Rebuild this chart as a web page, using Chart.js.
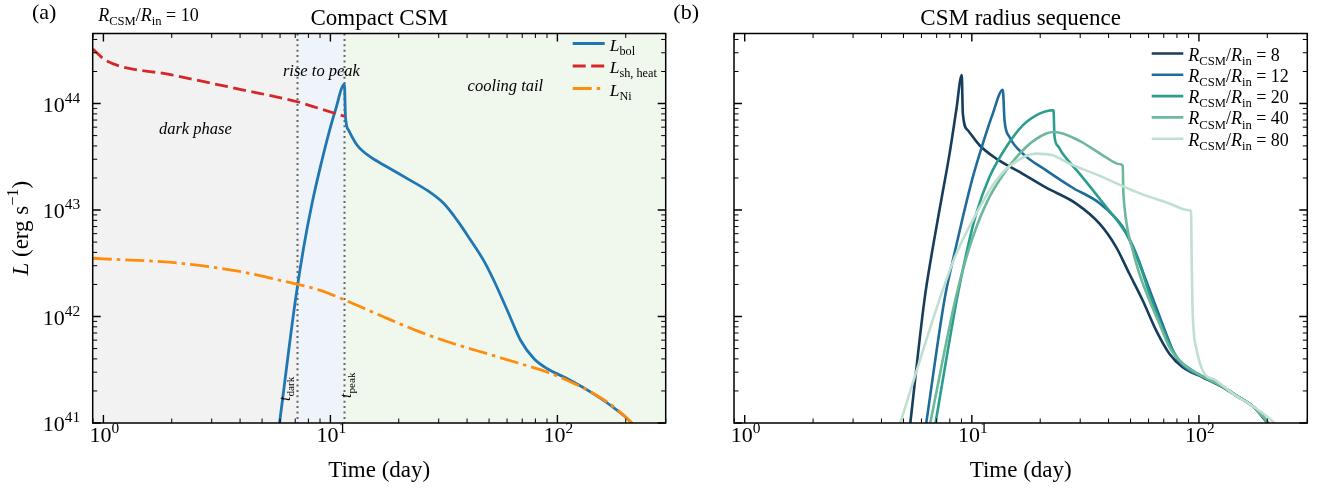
<!DOCTYPE html>
<html>
<head>
<meta charset="utf-8">
<script src="https://cdn.jsdelivr.net/npm/chart.js@4.4.1/dist/chart.umd.min.js"></script>
<style>
html, body { margin: 0; padding: 0; background: #fff; }
#wrap { position: relative; width: 1321px; height: 489px; overflow: hidden; }
canvas { position: absolute; top: 0; }
#left { left: 0; }
#right { left: 650px; }
</style>
</head>
<body>
<div id="wrap">
  <canvas id="left" width="690" height="489"></canvas>
  <canvas id="right" width="671" height="489"></canvas>
</div>
<script>
/* ---------- data (t in days, L in erg/s) ---------- */

// panel (a): compact CSM, R_CSM/R_in = 10
const bolT = [5.97, 7.01, 7.63, 8.30, 9.03, 9.83, 10.52, 11.53, 11.65, 12.04, 13.12, 15.0, 17.8, 22.5, 26.7, 31.6, 36.2, 41.5, 47.3, 52.5, 60.2, 68.9, 78.9, 90.3, 110.7, 140.3, 171.8, 210.6, 220];
const bolL = [1.0e41, 1.42e42, 4.49e42, 1.15e43, 2.54e43, 5.23e43, 8.65e43, 1.52e44, 7.5e43, 5.6e43, 4.06e43, 3.15e43, 2.54e43, 1.90e43, 1.53e43, 1.15e43, 8.0e42, 5.2e42, 3.37e42, 2.18e42, 1.14e42, 5.96e41, 4.01e41, 3.23e41, 2.60e41, 1.95e41, 1.46e41, 1.02e41, 9.0e40];

const shT = [0.898, 0.95, 1.02, 2.0, 4.0, 7.15, 9.0, 11.53];
const shL = [3.25e44, 2.9e44, 2.55e44, 1.86e44, 1.36e44, 1.04e44, 8.94e43, 7.6e43];

const niT = [0.898, 1.0, 2.0, 4.0, 5.62, 9.03, 11.65, 17.0, 24.9, 35.0, 49.1, 68.9, 90.3, 110.7, 145, 177.7, 210.6, 220];
const niL = [3.52e42, 3.48e42, 3.22e42, 2.65e42, 2.26e42, 1.76e42, 1.42e42, 1.0e42, 7.14e41, 5.55e41, 4.47e41, 3.6e41, 3.0e41, 2.51e41, 1.88e41, 1.41e41, 1.02e41, 9.2e40];

// phase boundaries: t_dark, t_peak
const phaseEdges = [7.15, 11.53];

// panel (b): CSM radius sequence
const ratios = [8, 12, 20, 40, 80];

const r8T = [5.36, 6.19, 6.74, 7.33, 7.98, 8.54, 9.03, 9.13, 9.60, 10.81, 12.81, 16.21, 21.25, 28.8, 36.5, 43.2, 49.4, 56.5, 64.8, 74.1, 84.8, 103.8, 127.2, 145.6, 175, 200.6, 215];
const r8L = [1.0e41, 1.45e42, 4.49e42, 1.23e43, 3.39e43, 8.65e43, 1.85e44, 8.05e43, 5.61e43, 4.06e43, 3.04e43, 2.28e43, 1.62e43, 1.15e43, 7.45e42, 4.49e42, 2.52e42, 1.42e42, 7.4e41, 4.47e41, 3.34e41, 2.69e41, 2.17e41, 1.8e41, 1.4e41, 1.0e41, 8.5e40];

const r12T = [6.30, 7.59, 8.25, 9.13, 10.10, 11.18, 12.37, 13.69, 13.93, 14.65, 16.76, 21.25, 27.8, 36.5, 46.2, 52.9, 58.5, 64.8, 71.7, 79.3, 90.7, 103.8, 127.2, 145.6, 175, 200.6, 215];
const r12L = [1.0e41, 1.47e42, 3.37e42, 8.6e42, 2.04e43, 4.21e43, 8.05e43, 1.35e44, 6.97e43, 4.86e43, 3.39e43, 2.36e43, 1.62e43, 1.16e43, 6.92e42, 3.89e42, 2.18e42, 1.22e42, 6.89e41, 4.15e41, 3.11e41, 2.74e41, 2.2e41, 1.82e41, 1.4e41, 1.02e41, 8.5e40];

const r20T = [6.92, 8.6, 9.45, 10.45, 11.96, 14.17, 16.76, 19.86, 22.0, 22.9, 23.1, 24.0, 25.1, 29.8, 39.0, 47.8, 54.7, 60.5, 67.0, 74.1, 82.0, 93.8, 103.8, 127.2, 145.6, 175, 200.6, 215];
const r20L = [1.0e41, 1.47e42, 3.89e42, 9.25e42, 2.04e43, 3.91e43, 6.25e43, 8.05e43, 8.6e43, 8.65e43, 5.0e43, 3.97e43, 3.39e43, 2.2e43, 1.07e43, 6.0e42, 3.13e42, 1.64e42, 9.19e41, 5.55e41, 3.87e41, 3.11e41, 2.74e41, 2.2e41, 1.82e41, 1.4e41, 1.02e41, 8.5e40];

const r40T = [6.56, 8.48, 9.77, 11.57, 14.17, 17.35, 21.25, 23.1, 29.8, 37.7, 45.0, 46.2, 46.4, 47.0, 48.6, 51.1, 54.7, 60.5, 67.0, 74.1, 84.8, 103.8, 127.2, 145.6, 175, 200.6, 215];
const r40L = [1.0e41, 1.47e42, 4.49e42, 1.15e43, 2.36e43, 3.91e43, 5.23e43, 5.41e43, 4.47e43, 3.27e43, 2.69e43, 2.6e43, 1.65e43, 1.07e43, 6.44e42, 4.18e42, 2.52e42, 1.42e42, 8.56e41, 5.16e41, 3.6e41, 2.74e41, 2.2e41, 1.82e41, 1.4e41, 1.02e41, 8.5e40];

const r80T = [4.84, 7.21, 8.54, 10.45, 12.81, 15.15, 19.2, 22.72, 26.9, 37.7, 52.9, 74.1, 90.5, 92.3, 92.9, 93.6, 95.0, 97.1, 103.8, 118.9, 145.6, 166.6, 214.7, 225];
const r80L = [1.0e41, 1.45e42, 3.89e42, 9.25e42, 1.90e43, 2.73e43, 3.39e43, 3.27e43, 2.73e43, 2.04e43, 1.48e43, 1.15e43, 9.95e42, 9.72e42, 3.4e42, 1.33e42, 6.9e41, 5.16e41, 3.11e41, 2.51e41, 1.8e41, 1.51e41, 1.0e41, 8.8e40];

// axes
const tMin = 0.897, tMax = 300;
const lMin = 1e41, lMax = 4.55e44;
const xTickExps = [0, 1, 2];
const yTickExps = [41, 42, 43, 44];

/* ---------- helpers ---------- */

const FONT = '"Liberation Serif", "DejaVu Serif", serif';
function font(size, it) { return (it ? 'italic ' : '') + size + 'px ' + FONT; }

function segSize(s, size) { return (s.sub || s.sup) ? size * 0.7 : size; }

function segWidth(ctx, segs, size) {
    let w = 0;
    for (const s of segs) {
        ctx.font = font(segSize(s, size), s.it);
        w += ctx.measureText(s.t).width;
    }
    return w;
}

// draw a short run of text with italic / sub / sup pieces
function drawSegs(ctx, segs, x, y, size, align) {
    let cx = x;
    const w = segWidth(ctx, segs, size);
    if (align === 'center') cx -= w / 2;
    else if (align === 'right') cx -= w;
    ctx.textAlign = 'left';
    ctx.textBaseline = 'alphabetic';
    for (const s of segs) {
        const dy = s.sub ? size * 0.24 : (s.sup ? -size * 0.41 : 0);
        ctx.font = font(segSize(s, size), s.it);
        ctx.fillText(s.t, cx, y + dy);
        cx += ctx.measureText(s.t).width;
    }
}

function pow10(e) { return [{t: '10'}, {t: String(e), sup: true}]; }

function logTicks(min, max) {
    const out = [];
    for (let d = Math.floor(Math.log10(min)); d <= Math.ceil(Math.log10(max)); d++) {
        for (let m = 1; m <= 9; m++) {
            const v = m * Math.pow(10, d);
            if (v >= min * 0.999 && v <= max * 1.001) out.push({v: v, major: m === 1});
        }
    }
    return out;
}

const pts = (T, L) => T.map((t, i) => ({x: t, y: L[i]}));

function ratioLabel(r) {
    return [{t: 'R', it: true}, {t: 'CSM', sub: true}, {t: '/'}, {t: 'R', it: true}, {t: 'in', sub: true}, {t: ' = ' + r}];
}

/* ---------- plugin: shading, frame, ticks, labels, legend ---------- */

const decor = {
    id: 'decor',
    beforeDatasetsDraw(chart, args, o) {
        if (!o.phases) return;
        const {ctx, chartArea: a, scales: {x}} = chart;
        ctx.save();
        const edges = [a.left].concat(o.phases.edges.map(v => x.getPixelForValue(v)), [a.right]);
        o.phases.fills.forEach((c, i) => {
            ctx.fillStyle = c;
            ctx.fillRect(edges[i], a.top, edges[i + 1] - edges[i], a.bottom - a.top);
        });
        ctx.strokeStyle = 'rgba(85,85,85,0.9)';
        ctx.lineWidth = 2;
        ctx.setLineDash([2, 3.4]);
        o.phases.edges.forEach(v => {
            const px = Math.round(x.getPixelForValue(v)) + 0.5;
            ctx.beginPath();
            ctx.moveTo(px, a.top);
            ctx.lineTo(px, a.bottom);
            ctx.stroke();
        });
        ctx.restore();
    },
    afterDraw(chart, args, o) {
        const {ctx, chartArea: a, scales: {x, y}} = chart;
        ctx.save();
        ctx.fillStyle = '#000';

        // phase notes
        (o.notes || []).forEach(n => {
            drawSegs(ctx, n.segs, x.getPixelForValue(n.t), y.getPixelForValue(n.L), n.size, 'center');
        });
        (o.vnotes || []).forEach(n => {
            ctx.save();
            ctx.translate(x.getPixelForValue(n.t) + n.dx, a.bottom - n.up);
            ctx.rotate(-Math.PI / 2);
            drawSegs(ctx, n.segs, 0, 0, n.size, 'left');
            ctx.restore();
        });

        // frame
        ctx.strokeStyle = '#000';
        ctx.lineWidth = 1.5;
        ctx.strokeRect(a.left, a.top, a.right - a.left, a.bottom - a.top);

        // inward ticks on all four sides
        logTicks(x.min, x.max).forEach(tk => {
            const px = x.getPixelForValue(tk.v);
            const len = tk.major ? 8 : 4.5;
            ctx.lineWidth = tk.major ? 1.4 : 1;
            ctx.beginPath();
            ctx.moveTo(px, a.bottom); ctx.lineTo(px, a.bottom - len);
            ctx.moveTo(px, a.top); ctx.lineTo(px, a.top + len);
            ctx.stroke();
        });
        logTicks(y.min, y.max).forEach(tk => {
            const py = y.getPixelForValue(tk.v);
            const len = tk.major ? 8 : 4.5;
            ctx.lineWidth = tk.major ? 1.4 : 1;
            ctx.beginPath();
            ctx.moveTo(a.left, py); ctx.lineTo(a.left + len, py);
            ctx.moveTo(a.right, py); ctx.lineTo(a.right - len, py);
            ctx.stroke();
        });

        // tick labels
        xTickExps.forEach(e => {
            drawSegs(ctx, pow10(e), x.getPixelForValue(Math.pow(10, e)) + 1, a.bottom + 19, 22, 'center');
        });
        if (o.yLabels) {
            yTickExps.forEach(e => {
                drawSegs(ctx, pow10(e), a.left - 12.5, y.getPixelForValue(Math.pow(10, e)) + 8.4, 22, 'right');
            });
        }

        // axis titles
        const cx = (a.left + a.right) / 2;
        drawSegs(ctx, [{t: 'Time (day)'}], cx, a.bottom + 54, 23, 'center');
        if (o.yTitle) {
            ctx.save();
            ctx.translate(a.left - 65, (a.top + a.bottom) / 2);
            ctx.rotate(-Math.PI / 2);
            drawSegs(ctx, o.yTitle, 0, 0, 23, 'center');
            ctx.restore();
        }

        // title, panel label, extra note
        drawSegs(ctx, [{t: o.title}], cx, 25, 23, 'center');
        drawSegs(ctx, [{t: o.panel}], a.left - 60.7, 19, 22, 'left');
        if (o.topNote) drawSegs(ctx, o.topNote, a.left + 5.5, 21, 18, 'left');

        // legend
        const lg = o.legend;
        if (lg) {
            chart.data.datasets.forEach((ds, i) => {
                const ly = a.top + lg.top + i * lg.step;
                const lx = a.right - lg.fromRight;
                ctx.save();
                ctx.strokeStyle = ds.borderColor;
                ctx.lineWidth = ds.borderWidth;
                ctx.setLineDash(ds.borderDash || []);
                ctx.beginPath();
                ctx.moveTo(lx, ly);
                ctx.lineTo(lx + lg.len, ly);
                ctx.stroke();
                ctx.restore();
                ctx.fillStyle = '#000';
                drawSegs(ctx, lg.labels[i], lx + lg.len + 5, ly + 7, lg.size, 'left');
            });
        }
        ctx.restore();
    }
};

function lineSet(data, color, dash, i, width) {
    return {
        data: data,
        borderColor: color,
        borderWidth: width,
        borderDash: dash,
        pointRadius: 0,
        fill: false,
        cubicInterpolationMode: 'monotone',
        order: -i
    };
}

function makeChart(id, datasets, yWidth, padRight, decorOpts) {
    return new Chart(document.getElementById(id), {
        type: 'line',
        data: {datasets: datasets},
        options: {
            responsive: false,
            animation: false,
            events: [],
            layout: {padding: {top: 33.5, right: padRight, left: 0, bottom: 0}},
            scales: {
                x: {
                    type: 'logarithmic', min: tMin, max: tMax,
                    ticks: {display: false}, grid: {display: false}, border: {display: false},
                    afterFit: (s) => { s.height = 66; }
                },
                y: {
                    type: 'logarithmic', min: lMin, max: lMax,
                    ticks: {display: false}, grid: {display: false}, border: {display: false},
                    afterFit: (s) => { s.width = yWidth; }
                }
            },
            plugins: {
                legend: {display: false},
                tooltip: {enabled: false},
                decor: decorOpts
            }
        },
        plugins: [decor]
    });
}

/* ---------- panel (a) ---------- */

makeChart('left', [
    lineSet(pts(bolT, bolL), '#1f77b4', [], 0, 2.8),
    lineSet(pts(shT, shL), '#d62728', [13, 5.5], 1, 2.8),
    lineSet(pts(niT, niL), '#ff8c0a', [19, 5, 3.5, 5], 2, 2.8)
], 92.7, 24.3, {
    title: 'Compact CSM',
    panel: '(a)',
    yLabels: true,
    yTitle: [{t: 'L', it: true}, {t: ' (erg s'}, {t: '\u22121', sup: true}, {t: ')'}],
    topNote: ratioLabel(10),
    phases: {edges: phaseEdges, fills: ['#f2f2f2', '#eef4fa', '#f0f7ed']},
    notes: [
        {segs: [{t: 'dark phase', it: true}], t: 2.54, L: 5.2e43, size: 16.5},
        {segs: [{t: 'rise to peak', it: true}], t: 9.13, L: 1.8e44, size: 16.5},
        {segs: [{t: 'cooling tail', it: true}], t: 59, L: 1.3e44, size: 16.5}
    ],
    vnotes: [
        {segs: [{t: 't', it: true}, {t: 'dark', sub: true}], t: phaseEdges[0], dx: -7, up: 22, size: 16},
        {segs: [{t: 't', it: true}, {t: 'peak', sub: true}], t: phaseEdges[1], dx: 7, up: 25, size: 16}
    ],
    legend: {
        top: 10, step: 22.5, fromRight: 93, len: 32, size: 17.5,
        labels: [
            [{t: 'L', it: true}, {t: 'bol', sub: true}],
            [{t: 'L', it: true}, {t: 'sh, heat', sub: true}],
            [{t: 'L', it: true}, {t: 'Ni', sub: true}]
        ]
    }
});

/* ---------- panel (b) ---------- */

const seqColors = ['#163d5c', '#1f6c9c', '#2a9d8c', '#6cb89a', '#bfdfd0'];
const seqT = [r8T, r12T, r20T, r40T, r80T];
const seqL = [r8L, r12L, r20L, r40L, r80L];

makeChart('right', ratios.map((r, i) => lineSet(pts(seqT[i], seqL[i]), seqColors[i], [], i, 2.6)),
    84, 13.7, {
    title: 'CSM radius sequence',
    panel: '(b)',
    yLabels: false,
    legend: {
        top: 20, step: 21.3, fromRight: 155.6, len: 31.6, size: 18,
        labels: ratios.map(ratioLabel)
    }
});
</script>
</body>
</html>
